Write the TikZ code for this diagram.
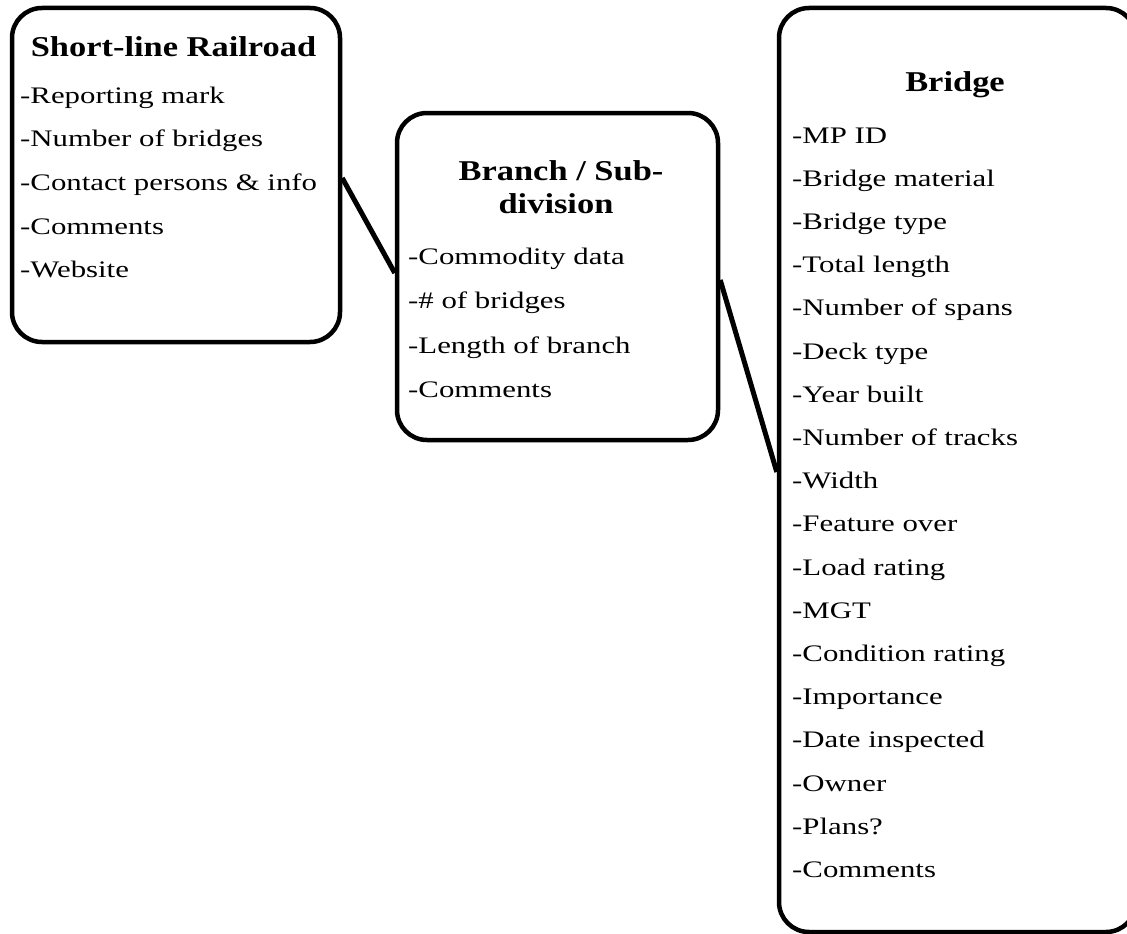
\documentclass[tikz,border=0pt]{standalone}
\usepackage{fontspec}
\newfontfamily\bodyfont[FakeStretch=1.3]{Liberation Serif}
\newfontfamily\headfont[FakeStretch=1.2]{Liberation Serif}
\tikzset{
  box/.style={draw=black, line width=4.5pt, rounded corners=30pt, rectangle, inner sep=0pt},
  link/.style={draw=black, line width=5pt},
  item/.style={anchor=base west, inner sep=0pt, font=\bodyfont\fontsize{23.7}{28}\selectfont},
  head/.style={anchor=base, inner sep=0pt, font=\headfont\bfseries\fontsize{28.7}{33}\selectfont},
}
\begin{document}
\begin{tikzpicture}[x=1pt,y=-1pt]
\fill[white] (0,0) rectangle (1127,934);
\useasboundingbox (0,0) rectangle (1127,934);
% boxes
\node[box, minimum width=328pt, minimum height=334pt] (sr) at (176,175) {};
\node[box, minimum width=321pt, minimum height=327pt] (br) at (557.5,276.5) {};
\node[box, minimum width=357pt, minimum height=924pt] (bd) at (957.5,470) {};
% connectors
\draw[link] ([yshift=-3pt]sr.east) -- ([yshift=3.5pt]br.west);
\draw[link] ([yshift=-3.5pt]br.east) -- ([yshift=-2pt]bd.west);
% titles
\node[head] (srt) at (173.5,57) {Short-line Railroad};
\node[head] (brt1) at (561,180) {Branch / Sub-};
\node[head] (brt2) at (556,213) {division};
\node[head] (bdt) at (955,92) {Bridge};
% items
\foreach \t [count=\i from 0] in {-Reporting mark,-Number of bridges,-Contact persons \& info,-Comments,-Website}
  \node[item] (sr-\i) at (20,{103+43.7*\i}) {\t};
\foreach \t [count=\i from 0] in {-Commodity data,-\# of bridges,-Length of branch,-Comments}
  \node[item] (br-\i) at (408,{264+44.5*\i}) {\t};
\foreach \t [count=\i from 0] in {-MP ID,-Bridge material,-Bridge type,-Total length,-Number of spans,-Deck type,-Year built,-Number of tracks,-Width,-Feature over,-Load rating,-MGT,-Condition rating,-Importance,-Date inspected,-Owner,-Plans?,-Comments}
  \node[item] (bd-\i) at (792,{143+43.2*\i}) {\t};
\end{tikzpicture}
\end{document}
